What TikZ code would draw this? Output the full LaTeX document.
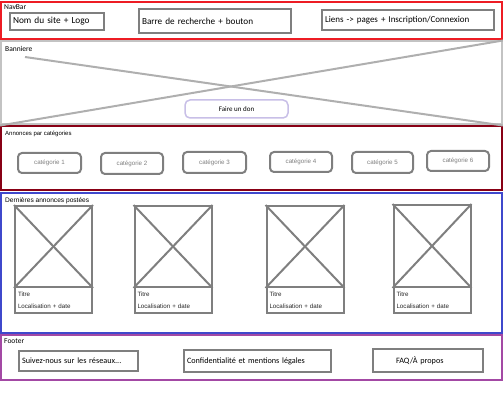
\documentclass[tikz,border=0pt]{standalone}
\usepackage{fontspec}
\setmainfont{Carlito}
\newfontfamily\arialfont{Liberation Sans}
\definecolor{navred}{RGB}{237,28,36}
\definecolor{bannergray}{RGB}{195,195,195}
\definecolor{catred}{RGB}{136,0,21}
\definecolor{lastblue}{RGB}{63,72,204}
\definecolor{footpurple}{RGB}{163,73,164}
\definecolor{lavender}{RGB}{200,191,231}
\definecolor{boxgray}{RGB}{127,127,127}
\tikzstyle{section}=[draw, line width=2pt, inner sep=0pt]
\tikzstyle{sectitle}=[anchor=north west, inner sep=1pt, font=\fontsize{7.5}{8}\selectfont]
\tikzstyle{textbox}=[draw=boxgray, line width=2pt, inner xsep=3pt, inner ysep=0pt, align=left]
\tikzstyle{catbox}=[draw=boxgray, line width=2pt, rounded corners=4pt, inner sep=0pt, text=boxgray, font=\arialfont\fontsize{6.2}{7}\selectfont]
\tikzstyle{picbox}=[draw=boxgray, line width=2pt, minimum width=77pt, minimum height=81pt, inner sep=0pt]
\tikzstyle{infobox}=[draw=boxgray, line width=2pt, minimum width=77pt, minimum height=26pt, text width=71pt, inner xsep=3pt, align=left, text=black!85, font=\arialfont\fontsize{6.2}{12}\selectfont]
\begin{document}
\begin{tikzpicture}[x=1pt,y=-1pt]
  \useasboundingbox (0,0) rectangle (503,406);
  %% Sections
  \draw (251.5,20.5) node[section, draw=navred, minimum width=501pt, minimum height=37pt] (NavBar) {};
  \draw (251.5,83) node[section, draw=bannergray, minimum width=501pt, minimum height=83pt] (Banner) {};
  \draw (251.5,158.5) node[section, draw=catred, minimum width=501pt, minimum height=64pt] (Cats) {};
  \draw (251.5,263) node[section, draw=lastblue, minimum width=501pt, minimum height=140pt] (Last) {};
  \draw (251.5,357.5) node[section, draw=footpurple, minimum width=501pt, minimum height=45pt] (Footer) {};

  \draw (3,3.5) node[sectitle] (NavBarTitle) {NavBar};
  \draw (4,45.5) node[sectitle] (BannerTitle) {Banniere};
  \draw (4,130) node[sectitle, font=\arialfont\fontsize{6}{7}\selectfont] (CatsTitle) {Annonces par catégories};
  \draw (4,196) node[sectitle, font=\arialfont\fontsize{6.6}{7}\selectfont] (LastTitle) {Dernières annonces postées};
  \draw (3,337.5) node[sectitle] (FooterTitle) {Footer};

  %% NavBar
  \draw (57,21.5) node[textbox, text width=88pt, minimum height=17pt, font=\fontsize{9.3}{11}\selectfont] (Logo) {Nom du site + Logo};
  \draw (215,21) node[textbox, text width=146pt, minimum height=24pt, font=\fontsize{9.2}{11}\selectfont] (Search) {Barre de recherche + bouton};
  \draw (408,20) node[textbox, text width=166pt, minimum height=20pt, font=\fontsize{9}{11}\selectfont] (Links) {Liens -> pages + Inscription/Connexion};

  %% Banner
  \coordinate (BannerStart) at (25,57);
  \draw[line width=2pt, bannergray!90!black] (Banner.south west) -- (Banner.north east);
  \draw[line width=2pt, bannergray!90!black] (BannerStart) -- (Banner.south east);
  \draw (236.5,109) node[draw=lavender, line width=1.5pt, rounded corners=5pt, fill=white, minimum width=103pt, minimum height=18pt, font=\fontsize{7}{8}\selectfont] (Don) {Faire un don};

  %% Categories
  \draw (49.5,163) node[catbox, minimum width=63pt, minimum height=20pt] (C1) {catégorie 1};
  \draw (132,163.5) node[catbox, minimum width=62pt, minimum height=21pt] (C2) {catégorie 2};
  \draw (214.5,162.5) node[catbox, minimum width=63pt, minimum height=21pt] (C3) {catégorie 3};
  \draw (301,162) node[catbox, minimum width=62pt, minimum height=20pt] (C4) {catégorie 4};
  \draw (382.5,162.5) node[catbox, minimum width=61pt, minimum height=21pt] (C5) {catégorie 5};
  \draw (458,161) node[catbox, minimum width=62pt, minimum height=20pt] (C6) {catégorie 6};

  %% Cards
  \draw (53.5,246.5) node[picbox] (Pic1) {};
  \draw (173,246.5) node[picbox] (Pic2) {};
  \draw (305,246.5) node[picbox] (Pic3) {};
  \draw (432,246) node[picbox, minimum height=82pt] (Pic4) {};

  \draw[line width=2pt, boxgray] (Pic1.north west) -- (Pic1.south east);
  \draw[line width=2pt, boxgray] (Pic1.north east) -- (Pic1.south west);
  \draw[line width=2pt, boxgray] (Pic2.north west) -- (Pic2.south east);
  \draw[line width=2pt, boxgray] (Pic2.north east) -- (Pic2.south west);
  \draw[line width=2pt, boxgray] (Pic3.north west) -- (Pic3.south east);
  \draw[line width=2pt, boxgray] (Pic3.north east) -- (Pic3.south west);
  \draw[line width=2pt, boxgray] (Pic4.north west) -- (Pic4.south east);
  \draw[line width=2pt, boxgray] (Pic4.north east) -- (Pic4.south west);

  \draw (53.5,300) node[infobox] (Info1) {Titre\\Localisation + date};
  \draw (173,300) node[infobox] (Info2) {Titre\\Localisation + date};
  \draw (305,300) node[infobox] (Info3) {Titre\\Localisation + date};
  \draw (432,300) node[infobox] (Info4) {Titre\\Localisation + date};

  %% Footer
  \draw (78.5,361) node[textbox, text width=113pt, minimum height=20pt, font=\fontsize{8.2}{9}\selectfont] (Follow) {Suivez-nous sur les réseaux...};
  \draw (257.5,361) node[textbox, text width=141pt, minimum height=22pt, font=\fontsize{8.2}{9}\selectfont] (Legal) {Confidentialité et mentions légales};
  \draw (428,360.5) node[textbox, text width=104pt, minimum height=23pt, font=\fontsize{8.2}{9}\selectfont] (Faq) {\hspace*{20pt}FAQ/À propos};
\end{tikzpicture}
\end{document}
